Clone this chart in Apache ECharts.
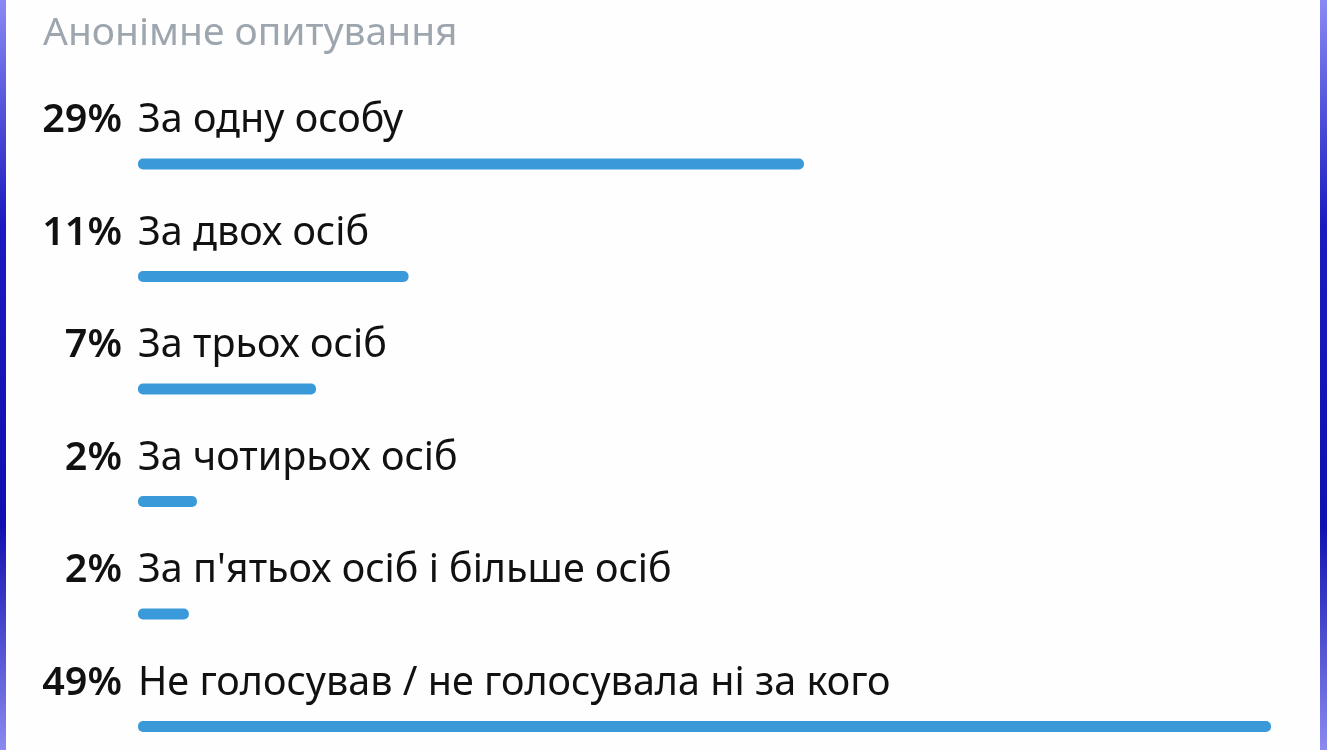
<!DOCTYPE html>
<html>
<head>
<meta charset="utf-8">
<script src="https://cdn.jsdelivr.net/npm/echarts@6/dist/echarts.min.js"></script>
<style>
html,body{margin:0;padding:0;background:#fefefe;overflow:hidden;}
#chart{width:1327px;height:750px;}
</style>
</head>
<body>
<div id="chart"></div>
<script>
const titleText = "Анонімне опитування";
const options = [
  "За одну особу",
  "За двох осіб",
  "За трьох осіб",
  "За чотирьох осіб",
  "За п'ятьох осіб і більше осіб",
  "Не голосував / не голосувала ні за кого"
];
const percentLabels = ["29%", "11%", "7%", "2%", "2%", "49%"];
// bar lengths as drawn (in percentage units)
const barLengths = [28.8, 11.7, 7.7, 2.55, 2.2, 49];

const chart = echarts.init(document.getElementById('chart'));
const FONT = 'Noto Sans';
const FS = 39.5;
chart.setOption({
  backgroundColor: '#fefefe',
  animation: false,
  title: {
    text: titleText,
    left: 38,
    top: 9,
    textStyle: { fontFamily: FONT, fontSize: 39, fontWeight: 'normal', color: '#9da6ae' }
  },
  grid: { left: 138, right: 56, top: 164, bottom: 23.5, containLabel: false, outerBoundsMode: 'none' },
  xAxis: { type: 'value', min: 0, max: 49, show: false },
  yAxis: { type: 'category', data: options, inverse: true, boundaryGap: false, show: false },
  series: [
    {
      type: 'bar',
      data: barLengths,
      barWidth: 11,
      itemStyle: { color: '#3a9ad9', borderRadius: 5 },
      label: {
        show: true,
        position: 'insideLeft',
        distance: 0,
        offset: [0, -43],
        formatter: (p) => options[p.dataIndex],
        fontFamily: FONT, fontSize: FS, color: '#111'
      }
    },
    {
      type: 'bar',
      data: barLengths,
      barWidth: 11,
      barGap: '-100%',
      silent: true,
      itemStyle: { color: 'rgba(0,0,0,0)' },
      label: {
        show: true,
        position: 'left',
        distance: 16,
        offset: [0, -43],
        formatter: (p) => percentLabels[p.dataIndex],
        fontFamily: FONT, fontSize: FS, fontWeight: 600, color: '#111'
      }
    }
  ],
  graphic: [
    {
      type: 'rect', left: 0, top: 0, z: 100,
      shape: { width: 6, height: 750 },
      style: { fill: new echarts.graphic.LinearGradient(0, 0, 0, 1, [
        { offset: 0, color: '#8a8af5' }, { offset: 0.3, color: '#1a1ac0' },
        { offset: 0.7, color: '#1010b0' }, { offset: 1, color: '#8a8af0' }]) }
    },
    {
      type: 'rect', left: 1320, top: 0, z: 100,
      shape: { width: 7, height: 750 },
      style: { fill: new echarts.graphic.LinearGradient(0, 0, 0, 1, [
        { offset: 0, color: '#8a8af5' }, { offset: 0.3, color: '#1a1ac0' },
        { offset: 0.7, color: '#1010b0' }, { offset: 1, color: '#8a8af0' }]) }
    }
  ]
});
</script>
</body>
</html>
